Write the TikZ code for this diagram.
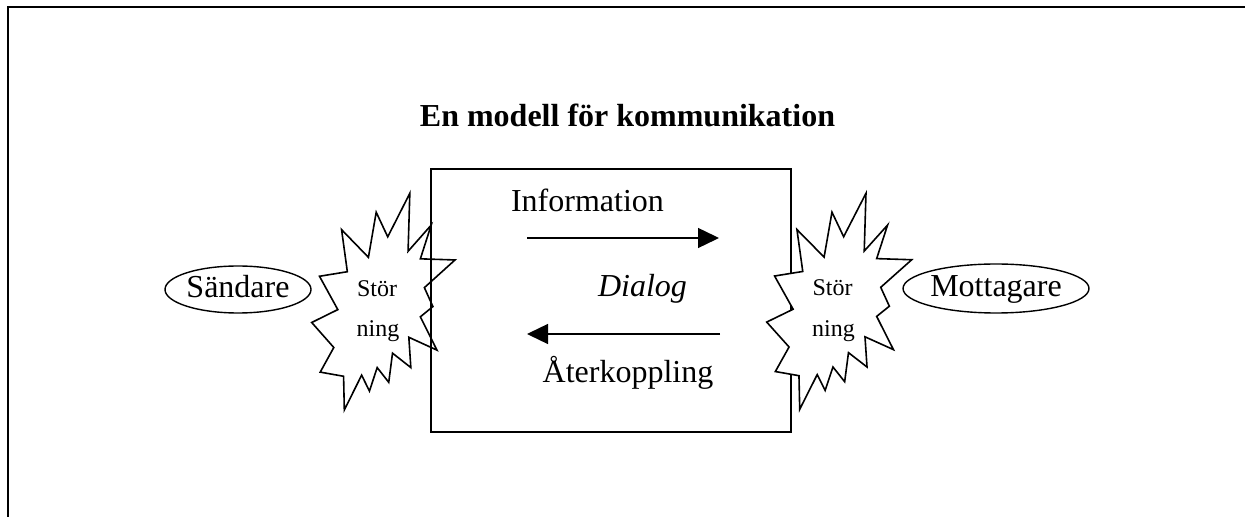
\documentclass[tikz,border=0pt]{standalone}
\usepackage{fontspec}
\setmainfont{Liberation Serif}
\usetikzlibrary{arrows.meta,shapes.geometric}
\tikzset{
  txt/.style={anchor=base,inner sep=0pt,font=\fontsize{16}{19}\selectfont},
  smalltxt/.style={anchor=base,inner sep=0pt,font=\fontsize{12}{14}\selectfont},
  party/.style={draw,ellipse,line width=0.7pt,inner sep=0pt,font=\fontsize{16}{19}\selectfont,text height=11pt,text depth=3.3pt},
  flow/.style={line width=0.7pt,-{Triangle[length=10.5pt,width=10pt]}},
  burst/.pic={\draw[line width=0.8pt,fill=white,line join=miter]
    (53.06,20.10) -- (68.47,0) -- (67.25,26.75) -- (83.37,14.69) -- (75.83,30.24) --
    (100,30.76) -- (78.63,43.53) -- (84.58,52.27) -- (75.83,56.99) -- (87.39,72.37) --
    (67.78,66.44) -- (69.18,80.42) -- (56.39,73.77) -- (53.76,87.23) -- (45.70,80.42) --
    (40.28,91.26) -- (34.85,83.91) -- (22.76,100) -- (22.25,84.44) -- (5.95,82.52) --
    (15.42,71.16) -- (0,59.62) -- (18.22,53.67) -- (5.43,38.29) -- (24.87,36.19) --
    (20.84,16.78) -- (39.58,29.55) -- (45.01,8.74) -- cycle;}
}
\begin{document}
\begin{tikzpicture}[x=0.5pt,y=-0.5pt]
\useasboundingbox (0,0) rectangle (1245,517);
% outer frame
\draw[line width=1pt] (8,517) -- (8,7) -- (1245,7);
% left noise burst (under the box)
\begin{scope}[shift={(311.7,193.3)},x=0.7165pt,y=-1.0835pt]
  \pic {burst};
\end{scope}
% dialog box
\node[draw,line width=0.85pt,minimum width=180pt,minimum height=131.5pt,inner sep=0pt] (box) at (611,300.5) {};
% right noise burst (over the box)
\begin{scope}[shift={(766.7,193.3)},x=0.725pt,y=-1.08pt]
  \pic {burst};
\end{scope}
% title
\node[txt,font=\fontsize{16}{19}\selectfont\bfseries] (title) at (627.5,127) {En modell för kommunikation};
% parties
\node[party,minimum width=73pt,minimum height=23.5pt] (sender) at (238,289.5) {Sändare};
\node[party,minimum width=84pt,minimum height=24.5pt] (receiver) at (996,288.5) {Mottagare};
% burst texts
\node[smalltxt] (s1) at (377,296.7) {Stör};
\node[smalltxt] (s2) at (378,336.7) {ning};
\node[smalltxt] (r1) at (832.5,295.5) {Stör};
\node[smalltxt] (r2) at (833.5,336.7) {ning};
% box texts
\node[txt] (info) at (587.5,212) {Information};
\node[txt,font=\fontsize{16}{19}\selectfont\itshape] (dialog) at (642.5,297) {Dialog};
\node[txt] (feedback) at (628,383) {Återkoppling};
% arrows
\coordinate (a1) at (527,238);
\coordinate (a2) at (719,238);
\coordinate (b1) at (720,334);
\coordinate (b2) at (527,334);
\draw[flow] (a1) -- (a2);
\draw[flow] (b1) -- (b2);
\end{tikzpicture}
\end{document}
